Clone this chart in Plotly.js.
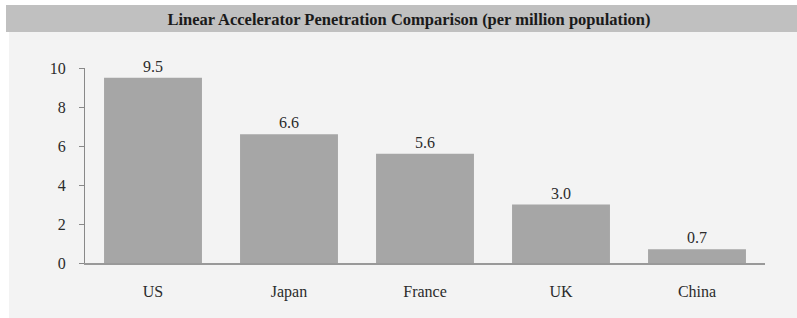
<!DOCTYPE html>
<html><head><meta charset="utf-8">
<script src="https://cdn.plot.ly/plotly-3.0.1.min.js"></script>
<style>html,body{margin:0;padding:0;background:#fff;}#chart{width:797px;height:318px;}</style>
</head><body><div id="chart"></div>
<script>
const categories = ["US", "Japan", "France", "UK", "China"];
const values = [9.5, 6.6, 5.6, 3.0, 0.7];
const valueLabels = ["9.5", "6.6", "5.6", "3.0", "0.7"];
const yTicks = [0, 2, 4, 6, 8, 10];
const titleText = "Linear Accelerator Penetration Comparison (per million population)";

const W = 797, H = 318, L = 85, R = 32, T = 68, B = 55;
const pw = W - L - R, ph = H - T - B;
const px = p => (p - L) / pw;
const py = p => (H - B - p) / ph;

const serif = "'Liberation Serif', 'Times New Roman', serif";

Plotly.newPlot("chart", [{
  type: "bar",
  x: categories,
  y: values,
  text: valueLabels,
  textposition: "outside",
  cliponaxis: false,
  textfont: {family: serif, size: 16, color: "#2b2b2b"},
  marker: {color: "#a6a6a6", line: {width: 0}},
  hoverinfo: "skip"
}], {
  width: W, height: H,
  margin: {l: L, r: R, t: T, b: B, pad: 0},
  paper_bgcolor: "#ffffff",
  plot_bgcolor: "rgba(0,0,0,0)",
  bargap: 0.28,
  showlegend: false,
  font: {family: serif, size: 16, color: "#2b2b2b"},
  title: {text: "<b>" + titleText + "</b>", font: {family: serif, size: 16.5, color: "#1a1a1a"},
          x: px(409), xref: "paper", xanchor: "center", y: 1 - 19 / H, yref: "container", yanchor: "middle"},
  xaxis: {
    type: "category",
    showgrid: false, zeroline: false,
    showline: true, linecolor: "#999", linewidth: 1.5,
    ticks: "", ticklabelstandoff: 13,
    tickfont: {family: serif, size: 16, color: "#2b2b2b"}
  },
  yaxis: {
    range: [0, 10],
    tickvals: yTicks,
    showgrid: false, zeroline: false,
    showline: true, linecolor: "#888", linewidth: 1,
    ticks: "outside", ticklen: 5, tickcolor: "#888",
    ticklabelstandoff: 10,
    tickfont: {family: serif, size: 16, color: "#2b2b2b"}
  },
  shapes: [
    {type: "rect", xref: "paper", yref: "paper", layer: "below",
     x0: px(9), x1: px(797), y0: py(318), y1: py(32),
     fillcolor: "#f3f3f3", line: {width: 0}},
    {type: "rect", xref: "paper", yref: "paper", layer: "below",
     x0: px(6), x1: px(797), y0: py(32), y1: py(5),
     fillcolor: "#c0c0c0", line: {width: 0}}
  ]
}, {displayModeBar: false, staticPlot: true});
</script>
</body></html>
